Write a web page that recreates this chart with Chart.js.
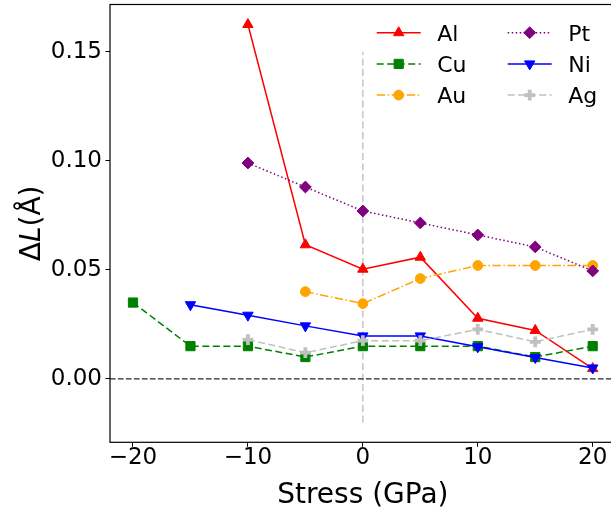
<!DOCTYPE html>
<html><head><meta charset="utf-8">
<script src="https://cdn.jsdelivr.net/npm/chart.js@4/dist/chart.umd.min.js"></script>
<style>html,body{margin:0;padding:0;overflow:hidden;background:#fff;width:611px;height:508px}canvas{display:block}</style>
</head><body>
<canvas id="c" width="620" height="508" style="width:620px;height:508px"></canvas>
<script>
// ---- data ----
const alX = [-10, -5, 0, 5, 10, 15, 20];
const alY = [0.1625, 0.0615, 0.0503, 0.0558, 0.0278, 0.0222, 0.0047];
const cuX = [-20, -15, -10, -5, 0, 5, 10, 15, 20];
const cuY = [0.035, 0.015, 0.015, 0.010, 0.015, 0.015, 0.015, 0.010, 0.015];
const auX = [-5, 0, 5, 10, 15, 20];
const auY = [0.040, 0.0345, 0.046, 0.052, 0.052, 0.052];
const ptX = [-10, -5, 0, 5, 10, 15, 20];
const ptY = [0.099, 0.088, 0.077, 0.0715, 0.066, 0.0605, 0.0495];
const niX = [-15, -10, -5, 0, 5, 10, 15, 20];
const niY = [0.034, 0.0292, 0.0243, 0.0197, 0.0197, 0.0147, 0.0098, 0.005];
const agX = [-10, -5, 0, 5, 10, 15, 20];
const agY = [0.018, 0.012, 0.0175, 0.0175, 0.0227, 0.017, 0.0227];
const zeroLineX = [-22, 22];
const zeroLineY = [0, 0];
const vLineX = [0, 0];
const vLineY = [-0.02, 0.15];
const xTicks = [-20, -10, 0, 10, 20];
const yTicks = [0.00, 0.05, 0.10, 0.15];
const xRange = [-22, 22];
const yRange = [-0.0291, 0.1717];
const xTitle = 'Stress (GPa)';
const yTitleParts = ['\u0394', 'L', '(\u00C5)'];

const pts = (xs, ys) => xs.map((x, i) => ({x: x, y: ys[i]}));
const FONT = "'DejaVu Sans', sans-serif";

const series = [
  {label: 'Al', data: pts(alX, alY), color: '#ff0000', style: 'triangle', rot: 0, r: 6, bw: 1, dash: [], order: 6},
  {label: 'Cu', data: pts(cuX, cuY), color: '#008000', style: 'rect', rot: 0, r: 6.5, bw: 1, dash: [7, 3.5], order: 5},
  {label: 'Au', data: pts(auX, auY), color: '#ffa500', style: 'circle', rot: 0, r: 4.9, bw: 1, dash: [8.5, 2.5, 1.5, 2.5], order: 4},
  {label: 'Pt', data: pts(ptX, ptY), color: '#800080', style: 'rectRot', rot: 0, r: 5.9, bw: 1, dash: [1.5, 2.5], order: 3},
  {label: 'Ni', data: pts(niX, niY), color: '#0000ff', style: 'triangle', rot: 180, r: 6, bw: 1, dash: [], order: 2},
  {label: 'Ag', data: pts(agX, agY), color: '#c0c0c0', style: 'cross', rot: 0, r: 5.4, bw: 3.8, dash: [7, 3.5], order: 1}
];

const datasets = series.map(s => ({
  label: s.label, data: s.data, borderColor: s.color, backgroundColor: s.color,
  borderWidth: 1.5, borderDash: s.dash, pointStyle: s.style, pointRotation: s.rot,
  pointRadius: s.r, pointHoverRadius: s.r, pointBorderWidth: s.bw, pointBackgroundColor: s.color,
  pointBorderColor: s.color, tension: 0, fill: false, order: s.order
}));
datasets.push({label: '_zero', data: pts(zeroLineX, zeroLineY), borderColor: '#222222', borderWidth: 1.4,
  borderDash: [5.5, 2.5], pointRadius: 0, fill: false, order: 10});
datasets.push({label: '_v', data: pts(vLineX, vLineY), borderColor: '#c0c0c0', borderWidth: 1.4,
  borderDash: [7, 3.5], pointRadius: 0, fill: false, order: 11});

function drawMarker(ctx, s, x, y) {
  ctx.save();
  ctx.fillStyle = s.color; ctx.strokeStyle = s.color; ctx.lineWidth = s.bw; ctx.setLineDash([]);
  const r = s.r; let rad = s.rot * Math.PI / 180;
  ctx.beginPath();
  if (s.style === 'triangle') {
    for (let k = 0; k < 3; k++) {
      const px = x + Math.sin(rad) * r, py = y - Math.cos(rad) * r;
      if (k === 0) ctx.moveTo(px, py); else ctx.lineTo(px, py);
      rad += 2 * Math.PI / 3;
    }
    ctx.closePath(); ctx.fill(); ctx.stroke();
  } else if (s.style === 'rect') {
    const h = Math.SQRT1_2 * r; ctx.rect(x - h, y - h, 2 * h, 2 * h); ctx.fill(); ctx.stroke();
  } else if (s.style === 'circle') {
    ctx.arc(x, y, r, 0, Math.PI * 2); ctx.fill(); ctx.stroke();
  } else if (s.style === 'rectRot') {
    ctx.moveTo(x - r, y); ctx.lineTo(x, y - r); ctx.lineTo(x + r, y); ctx.lineTo(x, y + r); ctx.closePath(); ctx.fill(); ctx.stroke();
  } else if (s.style === 'cross') {
    ctx.moveTo(x, y - r); ctx.lineTo(x, y + r); ctx.moveTo(x - r, y); ctx.lineTo(x + r, y); ctx.stroke();
  }
  ctx.restore();
}

const decorPlugin = {
  id: 'decor',
  afterDatasetsDraw(chart) {
    const ctx = chart.ctx, a = chart.chartArea;
    ctx.save();
    ctx.strokeStyle = '#000'; ctx.lineWidth = 1.2; ctx.setLineDash([]);
    ctx.strokeRect(a.left, a.top, a.right - a.left, a.bottom - a.top);
    ctx.restore();
  },
  afterDraw(chart) {
    const ctx = chart.ctx, a = chart.chartArea;
    ctx.save();
    // legend, 2 columns filled column-wise
    const rows = 3, rowY0 = a.top + 28.2, rowDy = 31.2;
    const cols = [a.left + 266.7, a.left + 397.7];
    ctx.font = '22px ' + FONT; ctx.textBaseline = 'alphabetic'; ctx.fillStyle = '#000';
    series.forEach((s, i) => {
      const c = Math.floor(i / rows), rr = i % rows;
      const x0 = cols[c], y = rowY0 + rr * rowDy;
      ctx.save();
      ctx.strokeStyle = s.color; ctx.lineWidth = 1.5; ctx.setLineDash(s.dash);
      ctx.beginPath(); ctx.moveTo(x0, y); ctx.lineTo(x0 + 44, y); ctx.stroke();
      ctx.restore();
      drawMarker(ctx, s, x0 + 22, y);
      ctx.fillStyle = '#000';
      ctx.fillText(s.label, x0 + 60.5, y + 8);
    });
    // x title
    ctx.font = '28px ' + FONT; ctx.textAlign = 'center';
    ctx.fillText(xTitle, (a.left + a.right) / 2, 503);
    // y title (rotated, with italic L)
    ctx.translate(40, (a.top + a.bottom) / 2);
    ctx.rotate(-Math.PI / 2);
    ctx.textAlign = 'left';
    const fonts = ['28px ' + FONT, 'italic 28px ' + FONT, '28px ' + FONT];
    let total = 0; const ws = [];
    yTitleParts.forEach((t, i) => { ctx.font = fonts[i]; const w = ctx.measureText(t).width; ws.push(w); total += w; });
    let x = -total / 2;
    yTitleParts.forEach((t, i) => { ctx.font = fonts[i]; ctx.fillText(t, x, 0); x += ws[i]; });
    ctx.restore();
  }
};

const fmtX = v => (v < 0 ? '\u2212' + Math.abs(v) : String(v));
const noPad = s => { s.paddingTop = 0; s.paddingBottom = 0; s.paddingLeft = 0; s.paddingRight = 0; };

new Chart(document.getElementById('c'), {
  type: 'line',
  data: {datasets: datasets},
  options: {
    responsive: false, animation: false, devicePixelRatio: 1,
    layout: {autoPadding: false, padding: {left: 0, right: 4.3, top: 4.5, bottom: 0}},
    plugins: {legend: {display: false}, tooltip: {enabled: false}},
    elements: {line: {borderCapStyle: 'butt'}},
    scales: {
      x: {
        type: 'linear', min: xRange[0], max: xRange[1],
        afterBuildTicks: s => { s.ticks = xTicks.map(v => ({value: v})); },
        afterFit: s => { s.height = 508 - 442.3; noPad(s); },
        grid: {display: true, drawOnChartArea: false, drawTicks: true, tickLength: 4.5, tickColor: '#000', tickWidth: 1},
        border: {display: false},
        ticks: {color: '#000', padding: 0, maxRotation: 0, autoSkip: false, font: {family: FONT, size: 23, lineHeight: 1},
          callback: v => fmtX(v)}
      },
      y: {
        type: 'linear', min: yRange[0], max: yRange[1],
        afterBuildTicks: s => { s.ticks = yTicks.map(v => ({value: v})); },
        afterFit: s => { s.width = 110; noPad(s); },
        grid: {display: true, drawOnChartArea: false, drawTicks: true, tickLength: 4.5, tickColor: '#000', tickWidth: 1},
        border: {display: false},
        ticks: {color: '#000', padding: 3.5, autoSkip: false, font: {family: FONT, size: 23},
          callback: v => v.toFixed(2)}
      }
    }
  },
  plugins: [decorPlugin]
});
</script>
</body></html>
